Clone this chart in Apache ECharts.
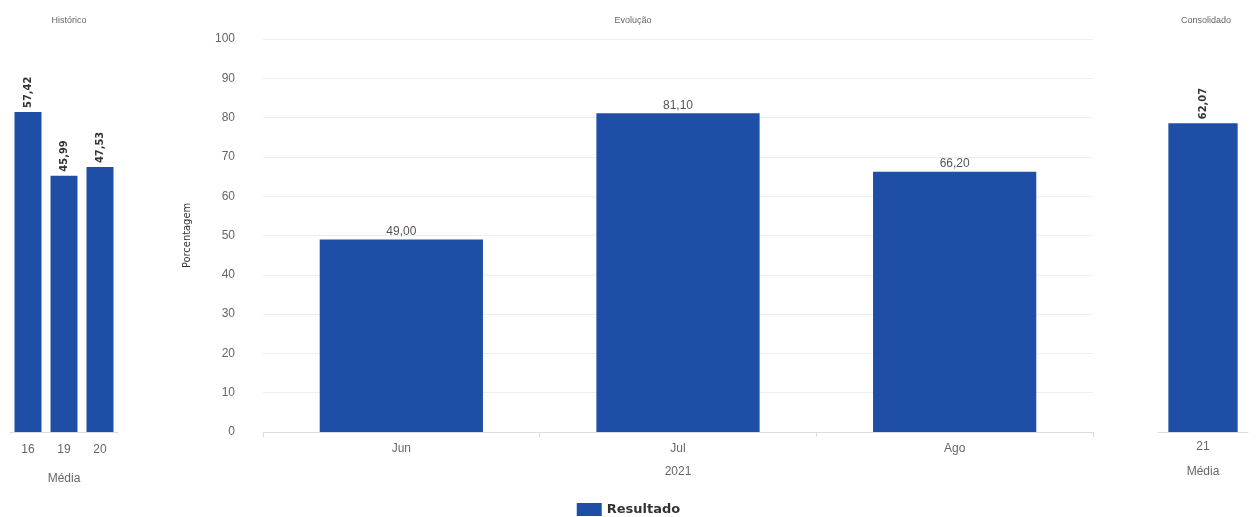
<!DOCTYPE html>
<html>
<head>
<meta charset="utf-8">
<script src="https://cdn.jsdelivr.net/npm/echarts@6/dist/echarts.min.js"></script>
<style>html,body{margin:0;padding:0;background:#fff;}#c{width:1257px;height:517px;}</style>
</head>
<body>
<div id="c"></div>
<script>
const histCategories = ['16', '19', '20'];
const histValues = [57.42, 45.99, 47.53];
const monthCategories = ['Jun', 'Jul', 'Ago'];
const monthValues = [49.00, 81.10, 66.20];
const consCategories = ['21'];
const consValues = [62.07];
const yearLabel = '2021';

const BLUE = '#1f4ea6';
const FONT = '"Liberation Sans", Arial, sans-serif';
const NARROW = '"Liberation Sans Narrow", "DejaVu Sans Condensed", sans-serif';
const fmt = p => p.value.toFixed(2).replace('.', ',');

const chart = echarts.init(document.getElementById('c'));
chart.setOption({
  animation: false,
  textStyle: { fontFamily: FONT },
  title: [
    { text: 'Histórico', left: 64, top: 11, textAlign: 'center', textStyle: { fontSize: 9, fontWeight: 'normal', color: '#666', fontFamily: FONT } },
    { text: 'Evolução', left: 628, top: 11, textAlign: 'center', textStyle: { fontSize: 9, fontWeight: 'normal', color: '#666', fontFamily: FONT } },
    { text: 'Consolidado', left: 1201, top: 11, textAlign: 'center', textStyle: { fontSize: 9, fontWeight: 'normal', color: '#666', fontFamily: FONT } }
  ],
  legend: {
    data: [{ name: 'Resultado', icon: 'rect' }], top: 498, left: 'center',
    itemWidth: 25, itemHeight: 13, itemGap: 8,
    textStyle: { fontSize: 13, fontWeight: 'bold', color: '#333', fontFamily: '"DejaVu Sans", sans-serif' }
  },
  grid: [
    { left: 10, width: 108, top: 39, bottom: 85 },
    { left: 263, right: 164, top: 39, bottom: 85 },
    { left: 1158, right: 9, top: 39, bottom: 85 }
  ],
  xAxis: [
    { gridIndex: 0, type: 'category', data: histCategories,
      name: 'Média', nameLocation: 'middle', nameGap: 41,
      nameTextStyle: { fontSize: 12, color: '#666' },
      axisLine: { lineStyle: { color: '#ddd' } }, axisTick: { show: false },
      axisLabel: { fontSize: 12, color: '#666', margin: 12 } },
    { gridIndex: 1, type: 'category', data: monthCategories,
      name: yearLabel, nameLocation: 'middle', nameGap: 34,
      nameTextStyle: { fontSize: 12, color: '#666' },
      axisLine: { lineStyle: { color: '#ddd' } },
      axisTick: { show: true, lineStyle: { color: '#ddd' } },
      axisLabel: { fontSize: 12, color: '#666', margin: 11 } },
    { gridIndex: 2, type: 'category', data: consCategories,
      name: 'Média', nameLocation: 'middle', nameGap: 34,
      nameTextStyle: { fontSize: 12, color: '#666' },
      axisLine: { lineStyle: { color: '#ddd' } }, axisTick: { show: false },
      axisLabel: { fontSize: 12, color: '#666', margin: 9 } }
  ],
  yAxis: [
    { gridIndex: 0, type: 'value', min: 0, max: 70.5, show: false },
    { gridIndex: 1, type: 'value', min: 0, max: 100, interval: 10,
      name: 'Porcentagem', nameLocation: 'middle', nameGap: 70, nameRotate: 90,
      nameTextStyle: { fontSize: 11, color: '#333', fontFamily: NARROW },
      axisLine: { show: false }, axisTick: { show: false },
      axisLabel: { fontSize: 12, color: '#666', margin: 28 },
      splitLine: { lineStyle: { color: '#eeeeee' } } },
    { gridIndex: 2, type: 'value', min: 0, max: 79, show: false }
  ],
  series: [
    { name: 'Resultado', type: 'bar', xAxisIndex: 0, yAxisIndex: 0, data: histValues,
      barWidth: '75%', itemStyle: { color: BLUE },
      label: { show: true, position: 'top', rotate: 90, align: 'left', verticalAlign: 'middle', distance: 4,
        formatter: fmt, fontSize: 11, fontWeight: 'bold', color: '#333', fontFamily: NARROW } },
    { name: 'Resultado', type: 'bar', xAxisIndex: 1, yAxisIndex: 1, data: monthValues,
      barWidth: '59%', itemStyle: { color: BLUE },
      label: { show: true, position: 'top', distance: 2, formatter: fmt, fontSize: 12, color: '#555' } },
    { name: 'Resultado', type: 'bar', xAxisIndex: 2, yAxisIndex: 2, data: consValues,
      barWidth: '77%', itemStyle: { color: BLUE },
      label: { show: true, position: 'top', rotate: 90, align: 'left', verticalAlign: 'middle', distance: 4,
        formatter: fmt, fontSize: 11, fontWeight: 'bold', color: '#333', fontFamily: NARROW } }
  ]
});
</script>
</body>
</html>
